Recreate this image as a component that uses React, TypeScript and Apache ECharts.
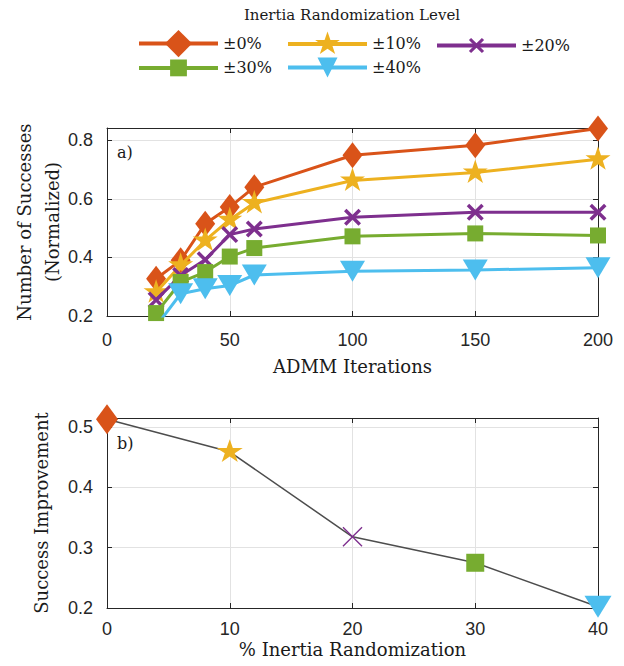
import React, { useEffect, useRef } from 'react';
import * as echarts from 'echarts';

// ---- data ----
const iterations = [20, 30, 40, 50, 60, 100, 150, 200];
const levelNames = ['±0%', '±10%', '±20%', '±30%', '±40%'];
const succ0 = [0.327, 0.39, 0.515, 0.572, 0.64, 0.749, 0.783, 0.84];
const succ10 = [0.281, 0.373, 0.458, 0.529, 0.586, 0.663, 0.69, 0.735];
const succ20 = [0.255, 0.338, 0.392, 0.478, 0.497, 0.537, 0.554, 0.554];
const succ30 = [0.21, 0.316, 0.35, 0.403, 0.432, 0.472, 0.482, 0.475];
const succ40 = [0.165, 0.276, 0.293, 0.304, 0.34, 0.353, 0.357, 0.365];
const randomization = [0, 10, 20, 30, 40];
const improvement = [0.513, 0.459, 0.318, 0.275, 0.202];

// ---- styling ----
const SERIF = '"DejaVu Serif", "Liberation Serif", serif';
const SANS = '"Liberation Sans", Arial, sans-serif';
const AX = '#262626';
const COLORS = ['#D95319', '#EDB120', '#7E2F8E', '#77AC30', '#4DBEEE'];

const DIAMOND = 'path://M50 0 L100 80 L50 160 L0 80 Z';
const STAR =
  'path://M100 200 M100 0 L122.45 69.1 L195.1 69.1 L136.3 111.8 L158.8 180.9 L100 138.2 L41.2 180.9 L63.7 111.8 L4.9 69.1 L77.55 69.1 Z';
const xPath = (w: number) =>
  `path://M0 ${w} L${w} 0 L50 ${50 - w} L${100 - w} 0 L100 ${w} L${50 + w} 50 L100 ${100 - w} L${100 - w} 100 L50 ${50 + w} L${w} 100 L0 ${100 - w} L${50 - w} 50 Z`;
const X_THICK = xPath(14.5);
const X_THIN = xPath(4.8);

const topSpecs = [
  { values: succ0, symbol: DIAMOND, size: [20, 26], rotate: 0 },
  { values: succ10, symbol: STAR, size: [25, 26], rotate: 0 },
  { values: succ20, symbol: X_THICK, size: [17, 17], rotate: 0 },
  { values: succ30, symbol: 'rect', size: [16, 16], rotate: 0 },
  { values: succ40, symbol: 'triangle', size: [25, 21], rotate: 180 },
];
const bottomMarkers = [
  { symbol: DIAMOND, size: [22, 30], rotate: 0 },
  { symbol: STAR, size: [26, 25], rotate: 0 },
  { symbol: X_THIN, size: [20, 20], rotate: 0 },
  { symbol: 'rect', size: [18, 18], rotate: 0 },
  { symbol: 'triangle', size: [27, 22], rotate: 180 },
];
const legendSpecs = [
  { left: 137, cy: 47, h: 34 },
  { left: 286, cy: 47, h: 31 },
  { left: 435, cy: 47, h: 19 },
  { left: 137, cy: 70, h: 21 },
  { left: 286, cy: 70, h: 25 },
];

const axisLine = { show: true, onZero: false, lineStyle: { color: AX, width: 1 } };
const axisTick = { show: true, inside: true, length: 5, lineStyle: { color: AX, width: 1 } };
const split = { show: true, lineStyle: { color: '#e2e2e2', width: 1 } };
const tickFont = { fontFamily: SANS, fontSize: 18, color: AX };
const nameFont = { fontFamily: SERIF, fontSize: 18, color: '#1a1a1a', lineHeight: 28 };

function makeOption() {
  const xAxis = [
    {
      type: 'value', gridIndex: 0, position: 'bottom', min: 0, max: 200, interval: 50,
      axisLine, axisTick, splitLine: split,
      axisLabel: { ...tickFont, margin: 15 },
      name: 'ADMM Iterations', nameLocation: 'middle', nameGap: 40, nameMoveOverlap: false,
      nameTextStyle: { ...nameFont, lineHeight: 20 },
    },
    {
      type: 'value', gridIndex: 0, position: 'top', min: 0, max: 200, interval: 50,
      axisLine, axisTick, splitLine: { show: false }, axisLabel: { show: false },
    },
    {
      type: 'value', gridIndex: 1, position: 'bottom', min: 0, max: 40, interval: 10,
      axisLine, axisTick, splitLine: split,
      axisLabel: { ...tickFont, margin: 12 },
      name: '% Inertia Randomization', nameLocation: 'middle', nameGap: 31, nameMoveOverlap: false,
      nameTextStyle: { ...nameFont, lineHeight: 20 },
    },
    {
      type: 'value', gridIndex: 1, position: 'top', min: 0, max: 40, interval: 10,
      axisLine, axisTick, splitLine: { show: false }, axisLabel: { show: false },
    },
  ];
  const yAxis = [
    {
      type: 'value', gridIndex: 0, position: 'left', min: 0.2, max: 0.842, interval: 0.2,
      axisLine, axisTick, splitLine: split,
      axisLabel: { ...tickFont, margin: 14, showMaxLabel: false, formatter: (v: number) => v.toFixed(1) },
      name: 'Number of Successes\n(Normalized)', nameLocation: 'middle', nameGap: 41, nameMoveOverlap: false,
      nameTextStyle: nameFont,
    },
    {
      type: 'value', gridIndex: 0, position: 'right', min: 0.2, max: 0.842, interval: 0.2,
      axisLine, axisTick, splitLine: { show: false }, axisLabel: { show: false },
    },
    {
      type: 'value', gridIndex: 1, position: 'left', min: 0.2, max: 0.515, interval: 0.1,
      axisLine, axisTick, splitLine: split,
      axisLabel: { ...tickFont, margin: 14, showMaxLabel: false, formatter: (v: number) => v.toFixed(1) },
      name: 'Success Improvement', nameLocation: 'middle', nameGap: 52, nameMoveOverlap: false,
      nameTextStyle: nameFont,
    },
    {
      type: 'value', gridIndex: 1, position: 'right', min: 0.2, max: 0.515, interval: 0.1,
      axisLine, axisTick, splitLine: { show: false }, axisLabel: { show: false },
    },
  ];

  const series: any[] = topSpecs.map((s, k) => ({
    type: 'line',
    name: levelNames[k],
    xAxisIndex: 0,
    yAxisIndex: 0,
    data: iterations.map((x, i) => [x, s.values[i]]),
    symbol: s.symbol,
    symbolSize: s.size,
    symbolRotate: s.rotate,
    itemStyle: { color: COLORS[k], borderWidth: 0 },
    lineStyle: { color: COLORS[k], width: 3 },
    clip: true,
    z: 2 + k,
  }));
  series.push({
    type: 'line',
    name: 'improvement',
    xAxisIndex: 2,
    yAxisIndex: 2,
    clip: false,
    lineStyle: { color: '#4d4d4d', width: 1.5 },
    itemStyle: { borderWidth: 0 },
    data: randomization.map((x, i) => ({
      value: [x, improvement[i]],
      symbol: bottomMarkers[i].symbol,
      symbolSize: bottomMarkers[i].size,
      symbolRotate: bottomMarkers[i].rotate,
      itemStyle: { color: COLORS[i], borderWidth: 0 },
    })),
    z: 2,
  });

  const legend = legendSpecs.map((l, k) => ({
    data: [levelNames[k]],
    left: l.left,
    top: l.cy - l.h / 2,
    orient: 'horizontal',
    padding: 0,
    itemWidth: 79,
    itemHeight: l.h,
    selectedMode: false,
    symbolKeepAspect: true,
    lineStyle: { width: 4 },
    textStyle: { fontFamily: SERIF, fontSize: 16, color: '#1a1a1a' },
  }));

  return {
    animation: false,
    backgroundColor: '#ffffff',
    grid: [
      { left: 107, top: 128, width: 491, height: 188, outerBoundsMode: 'none', containLabel: false },
      { left: 107, top: 418, width: 491, height: 190, outerBoundsMode: 'none', containLabel: false },
    ],
    xAxis,
    yAxis,
    legend,
    series,
    graphic: [
      {
        type: 'text', x: 352, y: 15,
        style: { text: 'Inertia Randomization Level', align: 'center', verticalAlign: 'middle', fontFamily: SERIF, fontSize: 15, fill: '#1a1a1a' },
      },
      {
        type: 'text', x: 117, y: 152,
        style: { text: 'a)', align: 'left', verticalAlign: 'middle', fontFamily: SERIF, fontSize: 16, fill: '#1a1a1a' },
      },
      {
        type: 'text', x: 117, y: 443,
        style: { text: 'b)', align: 'left', verticalAlign: 'middle', fontFamily: SERIF, fontSize: 16, fill: '#1a1a1a' },
      },
    ],
  };
}

export default function App() {
  const ref = useRef<HTMLDivElement>(null);
  useEffect(() => {
    if (!ref.current) return;
    const chart = echarts.init(ref.current, null, { renderer: 'svg' });
    chart.setOption(makeOption() as any);
    return () => chart.dispose();
  }, []);
  return (
    <div
      ref={ref}
      style={{ position: 'absolute', left: 0, top: 0, width: 624, height: 666, background: '#fff' }}
    />
  );
}
